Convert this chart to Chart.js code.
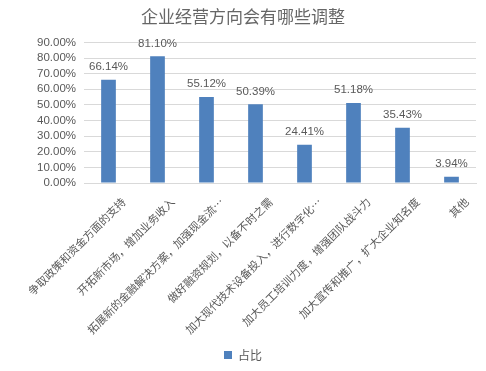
<!DOCTYPE html>
<html><head><meta charset="utf-8">
<script src="https://cdn.jsdelivr.net/npm/chart.js@4.4.1/dist/chart.umd.min.js"></script>
<style>html,body{margin:0;padding:0;background:#fff}#w{width:486px;height:371px;position:relative}</style>
</head><body><div id="w"><canvas id="c"></canvas></div>
<script>
const categories = ["争取政策和资金方面的支持","开拓新市场，增加业务收入","拓展新的金融解决方案，加强现金流…","做好融资规划，以备不时之需","加大现代技术设备投入，进行数字化…","加大员工培训力度，增强团队战斗力","加大宣传和推广，扩大企业知名度","其他"];
const values = [66.14, 81.10, 55.12, 50.39, 24.41, 51.18, 35.43, 3.94];
const seriesName = "占比";
const titleText = "企业经营方向会有哪些调整";
const yMax = 90, yStep = 10;
const FONT = "'Noto Sans CJK SC','Liberation Sans',sans-serif";
const NUMFONT = "'Liberation Sans',sans-serif";
const GRAY = '#595959';

const valueLabels = {
  id:'valueLabels',
  afterDatasetsDraw(chart){
    const ctx = chart.ctx;
    const meta = chart.getDatasetMeta(0);
    ctx.save();
    ctx.font = "11.5px " + NUMFONT;
    ctx.fillStyle = GRAY;
    ctx.textAlign = 'center';
    ctx.textBaseline = 'bottom';
    meta.data.forEach((bar,i)=>{
      ctx.fillText(values[i].toFixed(2)+'%', bar.x, bar.y - 7);
    });
    ctx.restore();
  }
};

new Chart(document.getElementById('c'), {
  type:'bar',
  data:{labels:categories, datasets:[{label:seriesName, data:values, backgroundColor:'#4F81BD', borderWidth:0, barPercentage:0.30, categoryPercentage:1}]},
  options:{
    responsive:true, maintainAspectRatio:false, animation:false,
    layout:{padding:0},
    plugins:{
      title:{display:true, text:titleText, color:'#666', font:{family:FONT, size:17, weight:'normal'}, padding:{top:6,bottom:16}},
      legend:{position:'bottom', labels:{color:GRAY, boxWidth:8, boxHeight:8, padding:10, font:{family:FONT, size:12}}},
      tooltip:{enabled:false}
    },
    scales:{
      x:{
        grid:{display:false, drawTicks:false},
        border:{color:'#d9d9d9'},
        ticks:{color:GRAY, font:{family:FONT, size:11}, minRotation:45, maxRotation:45, autoSkip:false, labelOffset:15, padding:12},
        afterFit(s){ s.height = 156; s.paddingLeft = 0; s.paddingRight = 10; }
      },
      y:{
        min:0, max:yMax,
        grid:{color:'#d9d9d9', drawTicks:false},
        border:{display:false},
        ticks:{stepSize:yStep, autoSkip:false, color:GRAY, padding:8, font:{family:NUMFONT, size:11.5}, callback:v=>v.toFixed(2)+'%'},
        afterFit(s){ s.width = 84; }
      }
    }
  },
  plugins:[valueLabels]
});
</script></body></html>
